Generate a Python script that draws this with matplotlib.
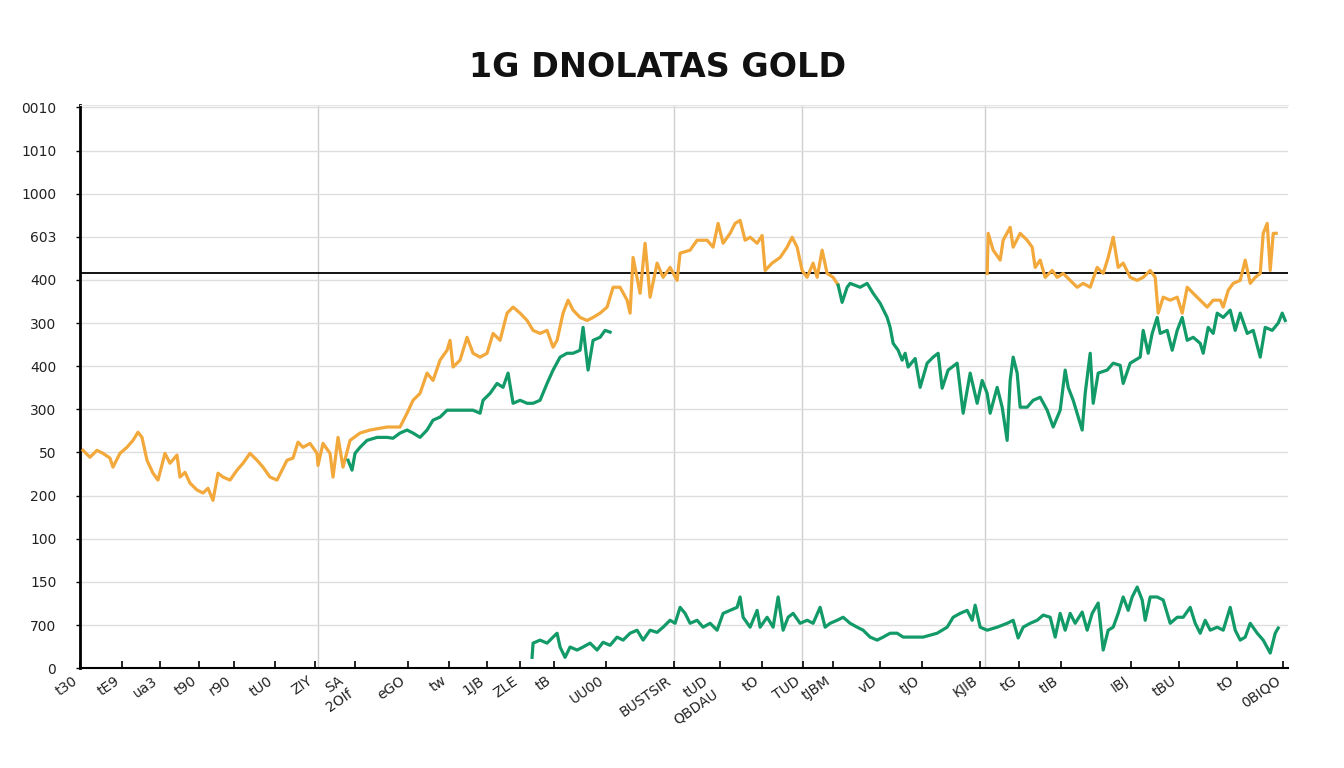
import matplotlib.pyplot as plt

# x is in trading days from the left edge, y in index points (grid step = 100)
orange_a_x = [3, 10, 17, 23, 30, 33, 40, 47, 53, 58, 62, 67, 73, 78, 85, 90, 97, 100, 105, 110,
              117, 123, 128, 133, 138, 143, 150, 157, 163, 170, 177, 183, 190, 197, 202, 207, 213, 218, 223, 230,
              237, 238, 243, 250, 253, 258, 263, 270, 280, 290, 307, 320, 327, 333, 340, 347, 353, 360, 367, 370,
              373, 380, 387, 393, 400, 407, 413, 420, 427, 433, 440, 447, 453, 460, 467, 473, 477, 483, 488, 493,
              500, 507, 513, 520, 527, 533, 540, 547, 550, 553, 560, 565, 570, 577, 583, 590, 597, 600, 610, 617,
              627, 633, 638, 643, 650, 655, 660, 665, 670, 677, 682, 685, 692, 700, 707, 712, 717, 722, 727, 733,
              737, 742, 747, 753, 758]
orange_a_y = [505, 489, 505, 498, 487, 466, 498, 512, 528, 547, 535, 482, 452, 436, 498, 475, 494, 443, 454, 429,
              413, 406, 417, 389, 452, 443, 436, 459, 475, 498, 482, 466, 443, 436, 459, 482, 487, 524, 512, 521,
              498, 470, 521, 498, 443, 535, 466, 528, 545, 552, 559, 559, 591, 621, 637, 684, 667, 714, 737, 760,
              698, 714, 767, 730, 721, 730, 776, 760, 823, 837, 823, 806, 783, 776, 783, 744, 760, 823, 853, 830,
              813, 806, 813, 823, 837, 883, 883, 853, 823, 952, 869, 985, 860, 939, 906, 929, 899, 962, 969, 992,
              992, 976, 1031, 985, 1008, 1031, 1038, 992, 999, 985, 1003, 922, 939, 952, 976, 999, 976, 922, 906, 939,
              906, 969, 915, 906, 888]

orange_b_x = [907, 908, 913, 920, 923, 930, 933, 940, 947, 952, 955, 960, 965, 972, 977, 983, 990, 997, 1003, 1010,
              1017, 1023, 1028, 1033, 1038, 1043, 1050, 1057, 1063, 1070, 1075, 1078, 1083, 1090, 1097, 1102, 1107, 1113, 1120, 1127,
              1133, 1140, 1143, 1148, 1153, 1160, 1165, 1170, 1175, 1180, 1183, 1187, 1190, 1193, 1196]
orange_b_y = [915, 1008, 969, 946, 992, 1022, 976, 1008, 992, 976, 929, 946, 906, 922, 906, 915, 899, 883, 892, 883,
              929, 915, 952, 999, 929, 939, 906, 899, 906, 922, 906, 823, 860, 853, 860, 823, 883, 869, 853, 837,
              853, 853, 837, 876, 892, 899, 946, 892, 906, 915, 1008, 1031, 922, 1008, 1008]

green_a_x = [268, 272, 275, 280, 287, 297, 307, 313, 320, 327, 333, 340, 347, 353, 360, 367, 373, 380, 387, 393,
             400, 403, 410, 417, 423, 428, 433, 440, 447, 453, 460, 467, 473, 480, 487, 493, 500, 503, 508, 513,
             520, 525, 530]
green_a_y = [482, 459, 498, 512, 528, 535, 535, 533, 545, 552, 545, 535, 552, 575, 582, 598, 598, 598, 598, 598,
             591, 621, 637, 660, 651, 684, 614, 621, 614, 614, 621, 660, 691, 721, 730, 730, 737, 790, 691, 760,
             767, 783, 779]

green_b_x = [758, 762, 767, 770, 780, 787, 793, 800, 807, 810, 813, 818, 822, 825, 828, 835, 840, 847, 853, 858,
             862, 868, 877, 883, 890, 897, 902, 907, 910, 917, 922, 927, 930, 933, 937, 940, 947, 953, 960, 967,
             973, 980, 985, 988, 993, 1002, 1005, 1010, 1013, 1018, 1027, 1033, 1040, 1043, 1050, 1060, 1063, 1068, 1072, 1077,
             1080, 1087, 1092, 1097, 1102, 1107, 1113, 1120, 1123, 1128, 1133, 1137, 1143, 1150, 1155, 1160, 1167, 1173, 1180, 1185,
             1192, 1198, 1202, 1205]
green_b_y = [888, 848, 883, 892, 883, 892, 869, 846, 813, 790, 753, 737, 714, 730, 698, 718, 651, 707, 721, 730,
             649, 691, 707, 591, 684, 614, 667, 637, 591, 651, 605, 528, 667, 721, 684, 605, 605, 621, 628, 598,
             559, 598, 691, 651, 621, 552, 637, 730, 614, 684, 691, 707, 702, 660, 707, 721, 783, 730, 776, 813,
             776, 783, 737, 783, 813, 760, 767, 753, 730, 790, 776, 823, 813, 830, 783, 823, 776, 783, 721, 790,
             783, 800, 823, 806]

green_c_x = [452, 453, 460, 467, 473, 477, 480, 485, 490, 497, 503, 510, 517, 523, 530, 537, 543, 550, 557, 563,
             570, 577, 583, 590, 595, 600, 605, 610, 617, 623, 630, 637, 643, 650, 657, 660, 663, 670, 677, 680,
             687, 693, 698, 703, 708, 713, 720, 727, 733, 740, 745, 750, 757, 763, 770, 777, 783, 790, 797, 803,
             810, 817, 823, 830, 843, 857, 867, 873, 880, 887, 892, 895, 900, 907, 917, 927, 933, 938, 943, 950,
             957, 963, 970, 975, 980, 985, 990, 995, 1002, 1007, 1012, 1018, 1023, 1028, 1033, 1038, 1043, 1048, 1052, 1057,
             1062, 1065, 1070, 1077, 1083, 1090, 1097, 1103, 1110, 1115, 1120, 1125, 1130, 1137, 1143, 1150, 1155, 1160, 1165, 1170,
             1177, 1183, 1190, 1195, 1198]
green_c_y = [25, 58, 65, 58, 72, 81, 49, 25, 49, 42, 49, 58, 42, 60, 53, 72, 65, 81, 88, 65,
             88, 83, 95, 111, 104, 141, 127, 104, 111, 95, 104, 88, 127, 134, 141, 165, 118, 95, 134, 95,
             118, 95, 165, 88, 118, 127, 104, 111, 104, 141, 95, 104, 111, 118, 104, 95, 88, 72, 65, 72,
             81, 81, 72, 72, 72, 81, 95, 118, 127, 134, 111, 146, 95, 88, 95, 104, 111, 70, 95, 104,
             111, 123, 118, 72, 127, 88, 127, 104, 130, 88, 127, 151, 42, 88, 95, 127, 165, 134, 165, 188,
             158, 111, 165, 165, 158, 104, 118, 118, 141, 104, 81, 111, 88, 95, 88, 141, 88, 65, 72, 104,
             81, 65, 35, 81, 93]

y_ticks = [0, 100, 200, 300, 400, 500, 600, 700, 800, 900, 1000, 1100, 1200, 1300]
y_labels = ["0", "700", "150", "100", "200", "50", "300", "400", "300", "400", "603", "1000", "1010", "0010"]

x_ticks = [0, 42, 80, 119, 154, 195, 235, 275, 328, 369, 407, 440, 474, 526, 594, 640, 682, 723,
           753, 800, 842, 900, 939, 981, 1051, 1099, 1157, 1203]
x_labels = ["t30", "tE9", "ua3", "t90", "r90", "tU0", "ZIY", "SA\n2OIf", "eGO", "tw", "1JB",
            "ZLE", "tB", "UU00", "BUSTSIR", "tUD\nQBDAU", "tO", "TUD", "tJBM", "vD", "tJO",
            "KJIB", "tG", "tIB", "IBJ", "tBU", "tO", "0BIQO"]

ref_level = 915
vlines = [238, 594, 722, 905]

ORANGE = "#F2A83A"
GREEN = "#129A68"

fig = plt.figure(figsize=(13.44, 7.68), dpi=100)
ax = fig.add_axes([0.0595, 0.130, 0.899, 0.733])

for v in vlines:
    ax.axvline(v, color="#cfcfcf", lw=1, zorder=0)
ax.set_yticks(y_ticks)
ax.set_yticklabels(y_labels, fontsize=10, color="#222222")
ax.yaxis.grid(True, color="#dedede", lw=1, zorder=0)
ax.axhline(ref_level, color="black", lw=1.3, zorder=1)

ax.plot(orange_a_x, orange_a_y, color=ORANGE, lw=2.3, zorder=3)
ax.plot(orange_b_x, orange_b_y, color=ORANGE, lw=2.3, zorder=3)
ax.plot(green_a_x, green_a_y, color=GREEN, lw=2.3, zorder=4)
ax.plot(green_b_x, green_b_y, color=GREEN, lw=2.3, zorder=4)
ax.plot(green_c_x, green_c_y, color=GREEN, lw=2.3, zorder=4)

ax.set_xticks(x_ticks)
ax.set_xticklabels(x_labels, rotation=35, ha="right", fontsize=10, color="#222222")
ax.tick_params(axis="x", direction="in", length=5, width=1.2, pad=4)
ax.tick_params(axis="y", direction="out", length=3, width=1, pad=14)
for lab in ax.get_yticklabels():
    lab.set_horizontalalignment("right")

ax.set_xlim(0, 1208)
ax.set_ylim(0, 1305)
ax.spines["left"].set_linewidth(2)
ax.spines["bottom"].set_linewidth(1.5)
ax.spines["right"].set_visible(False)
ax.spines["top"].set_color("#e6e6e6")

fig.text(0.489, 0.912, "1G DNOLATAS GOLD", ha="center", va="center",
         fontsize=24, fontweight="bold", color="#111111")

fig.savefig("out.png", dpi=100)
